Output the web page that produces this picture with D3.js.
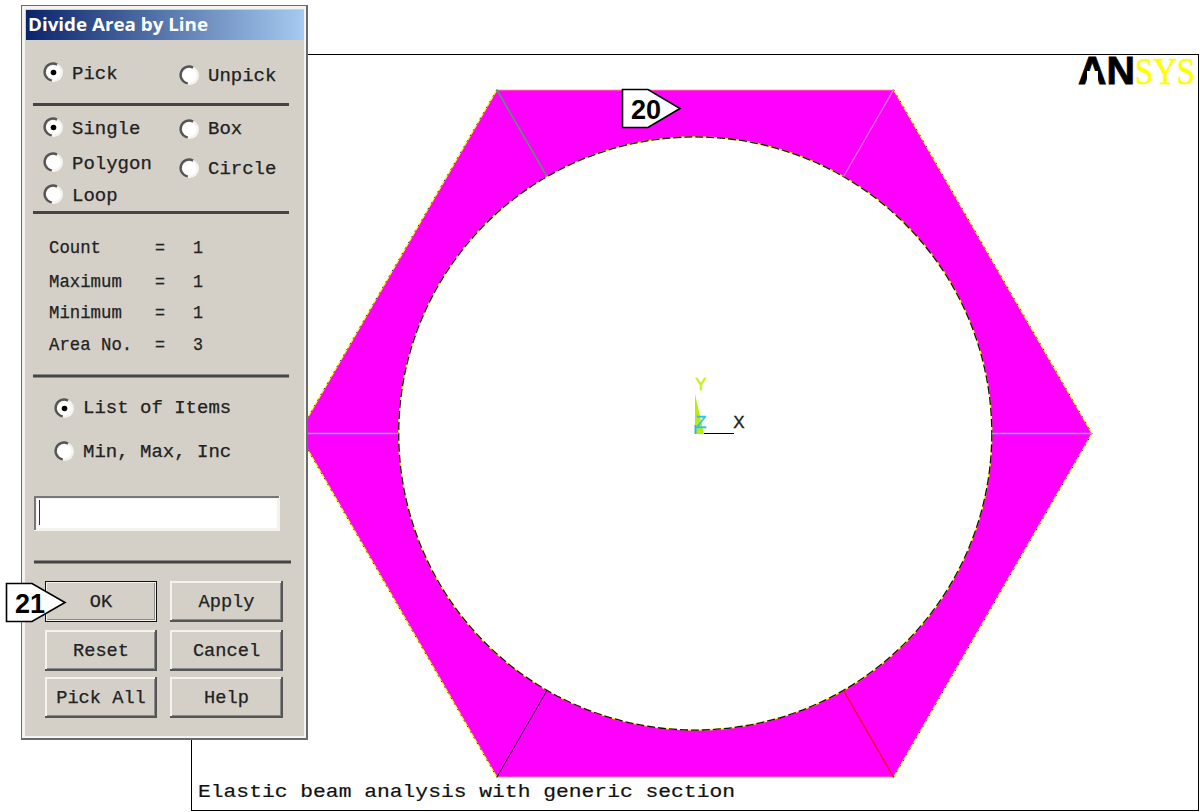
<!DOCTYPE html>
<html><head><meta charset="utf-8">
<script src="https://cdnjs.cloudflare.com/ajax/libs/d3/7.8.5/d3.min.js"></script>
<style>html,body{margin:0;padding:0;background:#fff}svg{display:block}</style>
</head><body><svg id="c" width="1200" height="812"></svg>
<script>
// --- values (model units of the section) ---
const outerRadius = 4, innerRadius = 2.99;
const hexAngles = [60, 120, 180, 240, 300, 0];
const dividerColors = ["#f070f0", "#20c040", "#70b8e0", "#111111", "#f01010", "#70b8e0"];
const title = "Divide Area by Line";
const subtitle = "Elastic beam analysis with generic section";
const radioLabels = ["Pick", "Unpick", "Single", "Box", "Polygon", "Circle", "Loop", "List of Items", "Min, Max, Inc"];
const radioChecked = [true, false, true, false, false, false, false, true, false];
const statLabels = ["Count", "Maximum", "Minimum", "Area No."];
const statValues = [1, 1, 1, 3];
const buttonLabels = ["OK", "Apply", "Reset", "Cancel", "Pick All", "Help"];
const callouts = ["20", "21"];

// --- layout ---
const svg = d3.select("#c");
const x = d3.scaleLinear().domain([-4, 4]).range([298.5, 1092]);
const y = d3.scaleLinear().domain([-4, 4]).range([830.5, 36.5]);
const polar = (r, a) => [x(r * Math.cos(a * Math.PI / 180)), y(r * Math.sin(a * Math.PI / 180))];
const mono = "'Liberation Mono','DejaVu Sans Mono',monospace";
const defs = svg.append("defs");
const grad = defs.append("linearGradient").attr("id", "tb");
grad.append("stop").attr("offset", 0).attr("stop-color", "#0a246a");
grad.append("stop").attr("offset", 1).attr("stop-color", "#a6caf0");

// plot frame
svg.append("rect").attr("x", 191.5).attr("y", 54.5).attr("width", 1007).attr("height", 756)
  .attr("fill", "#fff").attr("stroke", "#000");

// section
const hexPts = hexAngles.map(a => polar(outerRadius, a));
const line = d3.line().curve(d3.curveLinearClosed);
const cx = x(0), cy = y(0), rIn = x(innerRadius) - x(0);
const ringPath = line(hexPts) + `M${cx - rIn},${cy}a${rIn},${rIn} 0 1,0 ${2 * rIn},0a${rIn},${rIn} 0 1,0 ${-2 * rIn},0Z`;
svg.append("path").attr("d", ringPath).attr("fill", "#ff00ff").attr("fill-rule", "evenodd");
svg.append("path").attr("d", line(hexPts)).attr("fill", "none").attr("stroke", "#ffff00").attr("stroke-width", 1.2);
svg.append("path").attr("d", line([hexPts[1], hexPts[2], hexPts[3]]).replace(/Z$/, "")).attr("fill", "none").attr("stroke", "#333").attr("stroke-width", 1)
  .attr("stroke-dasharray", "1.5 5");
svg.append("path").attr("d", line([hexPts[0], hexPts[5], hexPts[4]]).replace(/Z$/, "")).attr("fill", "none").attr("stroke", "#333").attr("stroke-width", 1)
  .attr("stroke-dasharray", "1.5 5");
svg.append("circle").attr("cx", cx).attr("cy", cy).attr("r", rIn).attr("fill", "#fff").attr("stroke", "#ffff00").attr("stroke-width", 1.3);
svg.append("circle").attr("cx", cx).attr("cy", cy).attr("r", rIn).attr("fill", "none").attr("stroke", "#111").attr("stroke-width", 1.3)
  .attr("stroke-dasharray", "8 3");
svg.selectAll("line.div").data(hexAngles).join("line").attr("class", "div")
  .attr("x1", a => polar(outerRadius, a)[0]).attr("y1", a => polar(outerRadius, a)[1])
  .attr("x2", a => polar(innerRadius, a)[0]).attr("y2", a => polar(innerRadius, a)[1])
  .attr("stroke", (a, i) => dividerColors[i]).attr("stroke-width", (a, i) => i === 3 ? 1 : 1.3);

// triad
svg.append("path").attr("d", "M695,394L695,434L704,434Z").attr("fill", "#b4f000");
svg.append("path").attr("d", "M695.5,425V434").attr("stroke", "#30b0f0").attr("stroke-width", 2);
svg.append("path").attr("d", "M704,433.5H734").attr("stroke", "#000").attr("stroke-width", 1);
[["Y", 701, 390, "#c4f000"], ["Z", 701, 428, "#30c0f0"], ["X", 739, 428, "#222"]].forEach(d =>
  svg.append("text").text(d[0]).attr("x", d[1]).attr("y", d[2]).attr("text-anchor", "middle")
    .attr("font-family", mono).attr("font-size", 19).attr("stroke", d[3]).attr("stroke-width", 0.3).attr("fill", d[3]));

// logo
svg.append("text").text("AN").attr("x", 1078).attr("y", 84).attr("font-family", "'Liberation Sans',sans-serif")
  .attr("font-weight", 700).attr("font-size", 38).attr("textLength", 57).attr("lengthAdjust", "spacingAndGlyphs")
  .attr("fill", "#000").attr("stroke", "#000").attr("stroke-width", 0.8);
svg.append("rect").attr("x", 1087).attr("y", 71).attr("width", 11).attr("height", 14).attr("fill", "#fff");
svg.append("text").text("SYS").attr("x", 1135).attr("y", 84).attr("font-family", "'Liberation Serif',serif")
  .attr("font-size", 38).attr("textLength", 60).attr("lengthAdjust", "spacingAndGlyphs")
  .attr("fill", "#ffff00").attr("stroke", "#ffff00").attr("stroke-width", 0.6);

// subtitle
svg.append("text").text(subtitle).attr("x", 198).attr("y", 797).attr("font-family", mono)
  .attr("font-size", 19).attr("textLength", 537).attr("lengthAdjust", "spacingAndGlyphs")
  .attr("fill", "#111").attr("stroke", "#111").attr("stroke-width", 0.2);

// dialog
const dlg = svg.append("g");
dlg.append("rect").attr("x", 21).attr("y", 5).attr("width", 287).attr("height", 735).attr("fill", "#6a6a6a");
dlg.append("rect").attr("x", 22).attr("y", 6).attr("width", 284).attr("height", 732).attr("fill", "#f4f3f0");
dlg.append("rect").attr("x", 25).attr("y", 9).attr("width", 279).attr("height", 727).attr("fill", "#d4d0c8");
dlg.append("rect").attr("x", 26).attr("y", 10).attr("width", 278).attr("height", 30).attr("fill", "url(#tb)");
dlg.append("text").text(title).attr("x", 28).attr("y", 31).attr("font-family", "'Open Sans','DejaVu Sans',sans-serif")
  .attr("font-weight", 700).attr("font-size", 17).attr("textLength", 180).attr("lengthAdjust", "spacingAndGlyphs").attr("fill", "#fff");

const seps = [[33, 289, 104.5], [33, 289, 212.5], [33, 289, 376], [34, 291, 562]];
dlg.selectAll("line.sep").data(seps).join("line").attr("class", "sep")
  .attr("x1", d => d[0]).attr("x2", d => d[1]).attr("y1", d => d[2]).attr("y2", d => d[2])
  .attr("stroke", "#444").attr("stroke-width", 3);

const dlgText = (t, px, py, w) => dlg.append("text").text(t).attr("x", px).attr("y", py).attr("font-family", mono)
  .attr("font-size", 18).attr("fill", "#222").attr("stroke", "#222").attr("stroke-width", 0.25)
  .attr("textLength", w).attr("lengthAdjust", "spacingAndGlyphs");

const charW = 11.4;
const radioPos = [[53, 72, 72, 79], [189, 75, 208, 81], [53, 127, 72, 134], [189, 129, 208, 134], [53, 162, 72, 169],
  [189, 168, 208, 174], [53, 194, 72, 201], [64, 408, 83, 413], [64, 451, 83, 457]];
radioLabels.forEach((t, i) => {
  const p = radioPos[i];
  dlg.append("circle").attr("cx", p[0] + 0.5).attr("cy", p[1] + 0.5).attr("r", 9.5).attr("fill", "#f4f3f0");
  dlg.append("path").attr("d", d3.arc()({innerRadius: 7.2, outerRadius: 9.6, startAngle: -3.0, endAngle: 0.5}))
    .attr("transform", `translate(${p[0]},${p[1]})`).attr("fill", "#555");
  dlg.append("circle").attr("cx", p[0] + 0.5).attr("cy", p[1] + 0.5).attr("r", 7).attr("fill", "#fff");
  if (radioChecked[i]) dlg.append("circle").attr("cx", p[0] + 0.5).attr("cy", p[1] + 0.5).attr("r", 2.8).attr("fill", "#000");
  dlgText(t, p[2], p[3], t.length * charW);
});

const statY = [253, 287, 318, 350];
statLabels.forEach((t, i) => {
  dlgText(t, 49, statY[i], t.length * 10.4);
  dlgText("=", 155, statY[i], 10);
  dlgText(String(statValues[i]), 193, statY[i], 10);
});

// input
dlg.append("rect").attr("x", 34).attr("y", 496).attr("width", 246).attr("height", 35).attr("fill", "#f4f3f0");
dlg.append("path").attr("d", "M35,530V497H279").attr("fill", "none").attr("stroke", "#777").attr("stroke-width", 2);
dlg.append("rect").attr("x", 37).attr("y", 499).attr("width", 240).attr("height", 29).attr("fill", "#fff");
dlg.append("path").attr("d", "M39.5,500V525").attr("stroke", "#333").attr("stroke-width", 1);

// buttons
const btnPos = [[45, 581, 112, 41], [170, 581, 113, 41], [45, 630, 112, 41], [170, 630, 113, 41], [45, 677, 112, 41], [170, 677, 113, 41]];
buttonLabels.forEach((t, i) => {
  const [bx, by, bw, bh] = btnPos[i];
  const isOk = i === 0;
  dlg.append("rect").attr("x", bx).attr("y", by).attr("width", bw).attr("height", bh).attr("fill", isOk ? "#111" : "#555");
  dlg.append("rect").attr("x", bx + (isOk ? 1 : 0)).attr("y", by + (isOk ? 1 : 0)).attr("width", bw - 2).attr("height", bh - 2).attr("fill", "#f4f3f0");
  dlg.append("rect").attr("x", bx + 2).attr("y", by + 2).attr("width", bw - 4).attr("height", bh - 4).attr("fill", "#8a8a8a");
  dlg.append("rect").attr("x", bx + 2).attr("y", by + 2).attr("width", bw - 5).attr("height", bh - 5).attr("fill", "#d4d0c8");
  const w = t.length * 11.2;
  dlgText(t, bx + bw / 2 - w / 2, by + bh / 2 + 5, w);
});

// callouts
const calloutPos = [[622, 89, 648, 680, 39], [6, 583, 32, 65, 39]];
callouts.forEach((t, i) => {
  const [l, tp, s, tip, h] = calloutPos[i];
  svg.append("path").attr("d", `M${l + .5},${tp + .5}H${s}L${tip},${tp + h / 2}L${s},${tp + h - .5}H${l + .5}Z`)
    .attr("fill", "#fff").attr("stroke", "#000").attr("stroke-width", 1.6);
  svg.append("text").text(t).attr("x", l + 24).attr("y", tp + 30).attr("text-anchor", "middle")
    .attr("font-family", "'Liberation Sans',sans-serif").attr("font-weight", 700).attr("font-size", 27).attr("fill", "#000");
});
</script></body></html>
